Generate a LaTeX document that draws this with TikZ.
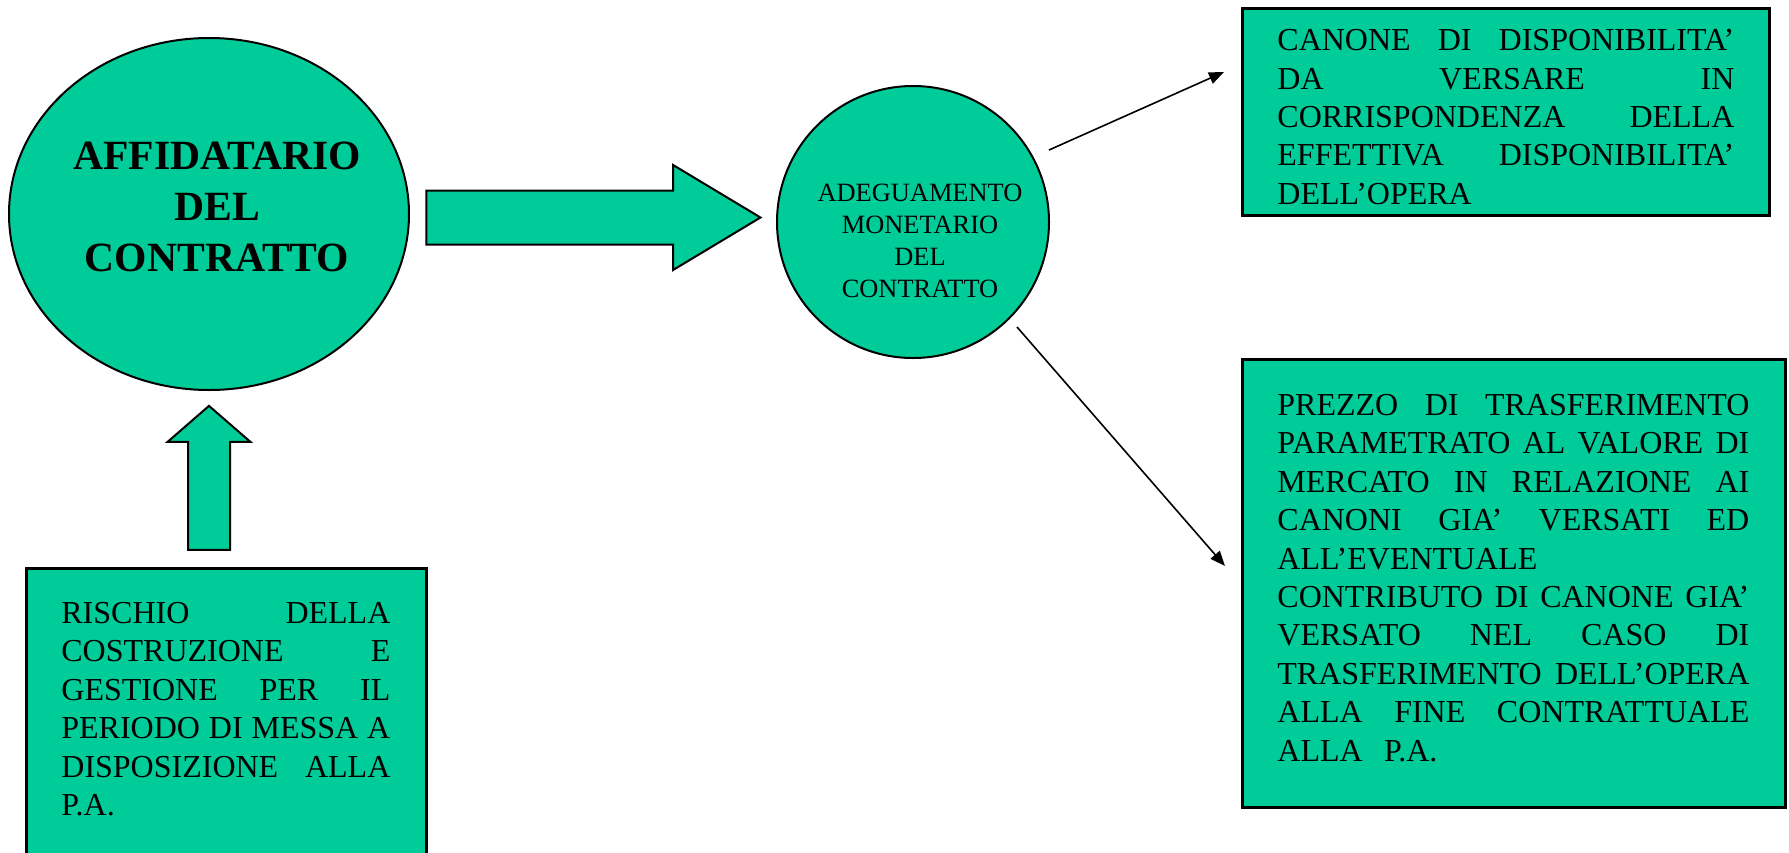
\documentclass[tikz,border=0pt]{standalone}
\usepackage{fontspec}
\setmainfont{Liberation Serif}
\usetikzlibrary{shapes.geometric,shapes.arrows,arrows.meta}
\definecolor{boxgreen}{RGB}{0,204,153}
\newlength{\jw}
\newcommand{\J}[1]{\hbox to \jw{#1}}
\tikzset{
  shapeline/.style={draw=black,line width=1pt,fill=boxgreen},
  ovalbox/.style={shapeline,ellipse,inner sep=0pt},
  greenbox/.style={draw=black,line width=1.3pt,fill=boxgreen},
  blockarrow/.style={shapeline,single arrow,inner xsep=0pt},
  boxtext/.style={anchor=north west,inner sep=0pt,font=\fontsize{16pt}{19.2pt}\selectfont},
  thinarrow/.style={line width=0.8pt,-{Triangle[length=7.5pt,width=6pt]}}
}
\begin{document}
\begin{tikzpicture}[x=0.5pt,y=-0.5pt]
\useasboundingbox (0,0) rectangle (1789,852);
% big ellipse
\node[ovalbox,minimum width=200pt,minimum height=176pt] (aff) at (209,214) {};
\node[align=center,inner sep=0pt,font=\bfseries\fontsize{20.8pt}{25.5pt}\selectfont] (afftxt) at (217,207) {AFFIDATARIO\\DEL\\CONTRATTO};
% right block arrow
\node[blockarrow,inner ysep=13pt,minimum height=167pt,single arrow head extend=12.75pt,single arrow tip angle=62] (rarrow) at (571,217.5) {};
% middle circle
\node[ovalbox,minimum width=136pt,minimum height=136pt] (mid) at (913,222) {};
\node[align=center,inner sep=0pt,font=\fontsize{13.2pt}{16pt}\selectfont] (midtxt) at (920,241) {ADEGUAMENTO\\MONETARIO\\DEL\\CONTRATTO};
% top right box
\node[greenbox,minimum width=263.5pt,minimum height=103.5pt,anchor=north west,inner sep=0pt] (canone) at (1241,7) {};
\node[boxtext,text width=228.5pt] (canonetxt) at (1277,29) {\setlength{\jw}{228.5pt}%
\J{CANONE\hfill DI\hfill DISPONIBILITA’}
\J{DA\hfill VERSARE\hfill IN}
\J{CORRISPONDENZA\hfill DELLA}
\J{EFFETTIVA\hfill DISPONIBILITA’}
\J{DELL’OPERA\hfill}};
% bottom right box
\node[greenbox,minimum width=271.5pt,minimum height=224pt,anchor=north west,inner sep=0pt] (prezzo) at (1241,358) {};
\node[boxtext,text width=236pt] (prezzotxt) at (1277,394) {\setlength{\jw}{236pt}%
\J{PREZZO\hfill DI\hfill TRASFERIMENTO}
\J{PARAMETRATO\hfill AL\hfill VALORE\hfill DI}
\J{MERCATO\hfill IN\hfill RELAZIONE\hfill AI}
\J{CANONI\hfill GIA’\hfill VERSATI\hfill ED}
\J{ALL’EVENTUALE\hfill}
\J{CONTRIBUTO\hfill DI\hfill CANONE\hfill GIA’}
\J{VERSATO\hfill NEL\hfill CASO\hfill DI}
\J{TRASFERIMENTO\hfill DELL’OPERA}
\J{ALLA\hfill FINE\hfill CONTRATTUALE}
\J{ALLA\ \ P.A.\hfill}};
% bottom left box
\node[greenbox,minimum width=200pt,minimum height=150pt,anchor=north west,inner sep=0pt] (rischio) at (25,567) {};
\node[boxtext,text width=164.5pt] (rischiotxt) at (61,602) {\setlength{\jw}{164.5pt}%
\J{RISCHIO\hfill DELLA}
\J{COSTRUZIONE\hfill E}
\J{GESTIONE\hfill PER\hfill IL}
\J{PERIODO\hfill DI\hfill MESSA\hfill A}
\J{DISPOSIZIONE\hfill ALLA}
\J{P.A.\hfill}};
% up block arrow
\node[blockarrow,rotate=90,inner ysep=10pt,minimum height=72pt,single arrow head extend=10.25pt,single arrow tip angle=98] (uparrow) at (209,487) {};
% thin arrows
\coordinate (a1s) at (1049,150);
\coordinate (a1e) at (1224,72);
\coordinate (a2s) at (1017,327);
\coordinate (a2e) at (1225,566);
\draw[thinarrow] (a1s) -- (a1e);
\draw[thinarrow] (a2s) -- (a2e);
\end{tikzpicture}
\end{document}
